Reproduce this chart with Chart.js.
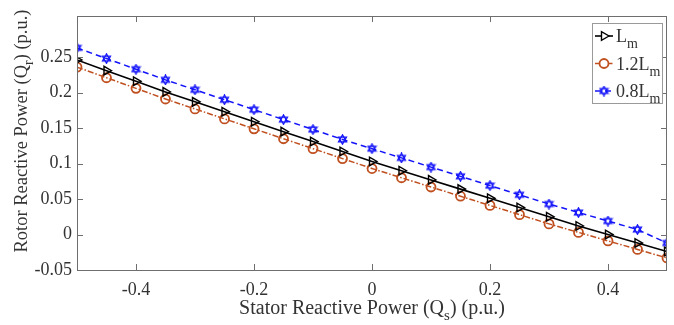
<!DOCTYPE html>
<html>
<head>
<meta charset="utf-8">
<script src="https://cdn.jsdelivr.net/npm/chart.js@4"></script>
<style>
  html, body { margin: 0; padding: 0; background: #fff; }
  #wrap { width: 674px; height: 325px; }
</style>
</head>
<body>
<div id="wrap"><canvas id="chart" width="674" height="325"></canvas></div>
<script>
// --- data ---
const qs = [-0.5, -0.45, -0.4, -0.35, -0.3, -0.25, -0.2, -0.15, -0.1, -0.05, 0,
            0.05, 0.1, 0.15, 0.2, 0.25, 0.3, 0.35, 0.4, 0.45, 0.5];
const qrLm = [0.246, 0.231, 0.216, 0.201, 0.187, 0.173, 0.159, 0.145, 0.131, 0.117, 0.103,
              0.090, 0.077, 0.064, 0.051, 0.038, 0.025, 0.012, 0.000, -0.012, -0.024];
const qr12Lm = [0.236, 0.221, 0.206, 0.191, 0.177, 0.163, 0.149, 0.135, 0.121, 0.107, 0.093,
                0.080, 0.067, 0.054, 0.041, 0.028, 0.015, 0.003, -0.009, -0.021, -0.033];
const qr08Lm = [0.263, 0.248, 0.233, 0.218, 0.204, 0.190, 0.176, 0.162, 0.148, 0.134, 0.121,
                0.108, 0.095, 0.082, 0.069, 0.056, 0.043, 0.031, 0.019, 0.007, -0.012];
const xTicks = [-0.4, -0.2, 0, 0.2, 0.4];
const yTicks = [-0.05, 0, 0.05, 0.1, 0.15, 0.2, 0.25];
const seriesNames = [["L", "m"], ["1.2L", "m"], ["0.8L", "m"]];

const ORANGE = "rgb(192,80,32)";
const BLUE = "rgb(20,20,250)";
const AXIS = "#6e6e6e";
const TEXT = "#333";
const SERIF = "'Liberation Serif', 'Times New Roman', serif";

// hexagram marker for the 0.8Lm series
function hexagram(color) {
  const c = document.createElement("canvas");
  c.width = 11; c.height = 11;
  const g = c.getContext("2d");
  const r = 4.6, cx = 5.5, cy = 5.5;
  g.strokeStyle = color; g.lineWidth = 1.3;
  [0, Math.PI].forEach(off => {
    g.beginPath();
    for (let k = 0; k < 3; k++) {
      const a = off - Math.PI / 2 + k * 2 * Math.PI / 3;
      const px = cx + r * Math.cos(a), py = cy + r * Math.sin(a);
      if (k === 0) g.moveTo(px, py); else g.lineTo(px, py);
    }
    g.closePath();
    g.stroke();
  });
  return c;
}
const starImg = hexagram(BLUE);

const toXY = ys => qs.map((x, i) => ({ x: x, y: ys[i] }));

// text with a subscript part
function subText(ctx, x, y, main, sub, size) {
  ctx.textAlign = "left";
  ctx.font = size + "px " + SERIF;
  ctx.fillText(main, x, y);
  const w1 = ctx.measureText(main).width;
  ctx.font = Math.round(size * 0.75) + "px " + SERIF;
  ctx.fillText(sub, x + w1, y + size * 0.35);
}

function titleParts(ctx, x, y, parts, size) {
  // parts: [text, isSub]
  let total = 0;
  parts.forEach(p => {
    ctx.font = (p[1] ? Math.round(size * 0.75) : size) + "px " + SERIF;
    total += ctx.measureText(p[0]).width;
  });
  let cx = x - total / 2;
  ctx.textAlign = "left";
  parts.forEach(p => {
    ctx.font = (p[1] ? Math.round(size * 0.75) : size) + "px " + SERIF;
    ctx.fillText(p[0], cx, p[1] ? y + size * 0.3 : y);
    cx += ctx.measureText(p[0]).width;
  });
}

const framePlugin = {
  id: "frame",
  afterDatasetsDraw(chart) {
    const { ctx, chartArea: a, scales } = chart;
    ctx.save();
    ctx.strokeStyle = AXIS;
    ctx.lineWidth = 1;
    ctx.strokeRect(a.left + 0.5, a.top + 0.5, a.right - a.left - 1, a.bottom - a.top);
    ctx.beginPath();
    xTicks.forEach(v => {
      const px = Math.round(scales.x.getPixelForValue(v)) + 0.5;
      ctx.moveTo(px, a.bottom); ctx.lineTo(px, a.bottom - 6);
      ctx.moveTo(px, a.top); ctx.lineTo(px, a.top + 6);
    });
    yTicks.forEach(v => {
      const py = Math.round(scales.y.getPixelForValue(v)) + 0.5;
      ctx.moveTo(a.left, py); ctx.lineTo(a.left + 6, py);
      ctx.moveTo(a.right, py); ctx.lineTo(a.right - 6, py);
    });
    ctx.stroke();

    // axis titles
    ctx.fillStyle = TEXT;
    ctx.textBaseline = "alphabetic";
    titleParts(ctx, (a.left + a.right) / 2, 314,
      [["Stator Reactive Power (Q", false], ["s", true], [") (p.u.)", false]], 20);
    ctx.save();
    ctx.translate(27, 131);
    ctx.rotate(-Math.PI / 2);
    titleParts(ctx, 0, 0,
      [["Rotor Reactive Power (Q", false], ["r", true], [") (p.u.)", false]], 18.5);
    ctx.restore();

    // legend box
    const bx = 592, by = 23, bw = 70, bh = 80;
    ctx.fillStyle = "#fff";
    ctx.fillRect(bx, by, bw, bh);
    ctx.strokeStyle = "#9a9a9a";
    ctx.lineWidth = 1;
    ctx.strokeRect(bx + 0.5, by + 0.5, bw, bh);
    chart.data.datasets.forEach((ds, i) => {
      const ly = by + 13 + i * 27.5;
      ctx.strokeStyle = ds.borderColor;
      ctx.lineWidth = ds.borderWidth;
      ctx.setLineDash(ds.borderDash || []);
      ctx.beginPath();
      ctx.moveTo(bx + 3, ly); ctx.lineTo(bx + 21, ly);
      ctx.stroke();
      ctx.setLineDash([]);
      ctx.fillStyle = "#fff";
      ctx.lineWidth = ds.pointBorderWidth || 1.3;
      Chart.helpers.drawPoint(ctx, {
        pointStyle: ds.pointStyle, rotation: ds.pointRotation || 0,
        radius: ds.pointRadius, borderWidth: ds.pointBorderWidth || 1.3
      }, bx + 12, ly);
      ctx.fillStyle = TEXT;
      subText(ctx, bx + 24, ly + 6, seriesNames[i][0], seriesNames[i][1], 18);
    });
    ctx.restore();
  }
};

new Chart(document.getElementById("chart"), {
  type: "line",
  data: {
    datasets: [
      {
        label: "Lm", data: toXY(qrLm),
        borderColor: "#000", borderWidth: 1.6,
        pointStyle: "triangle", pointRotation: 90, pointRadius: 5,
        pointBorderColor: "#000", pointBackgroundColor: "rgba(255,255,255,0)", pointBorderWidth: 1.4
      },
      {
        label: "1.2Lm", data: toXY(qr12Lm),
        borderColor: ORANGE, borderWidth: 1.5, borderDash: [6, 2, 1.5, 2],
        pointStyle: "circle", pointRadius: 4.5,
        pointBorderColor: ORANGE, pointBackgroundColor: "rgba(255,255,255,0)", pointBorderWidth: 1.8
      },
      {
        label: "0.8Lm", data: toXY(qr08Lm),
        borderColor: BLUE, borderWidth: 1.5, borderDash: [6, 4],
        pointStyle: starImg, pointRadius: 5
      }
    ]
  },
  options: {
    responsive: false,
    animation: false,
    events: [],
    layout: { padding: { top: 16, right: 7, left: 0, bottom: 0 } },
    plugins: { legend: { display: false }, tooltip: { enabled: false } },
    elements: { line: { tension: 0 } },
    scales: {
      x: {
        type: "linear", min: -0.5, max: 0.5,
        afterBuildTicks: s => { s.ticks = xTicks.map(v => ({ value: v })); },
        afterFit: s => { s.height = 55; },
        grid: { display: false, drawTicks: false },
        border: { display: false },
        ticks: {
          padding: 9, color: TEXT, font: { family: SERIF, size: 18 },
          callback: v => String(v)
        }
      },
      y: {
        type: "linear", min: -0.05, max: 0.308,
        afterBuildTicks: s => { s.ticks = yTicks.map(v => ({ value: v })); },
        afterFit: s => { s.width = 77; },
        grid: { display: false, drawTicks: false },
        border: { display: false },
        ticks: {
          padding: 5, color: TEXT, font: { family: SERIF, size: 18 },
          callback: v => String(+v.toFixed(2))
        }
      }
    }
  },
  plugins: [framePlugin]
});
</script>
</body>
</html>
